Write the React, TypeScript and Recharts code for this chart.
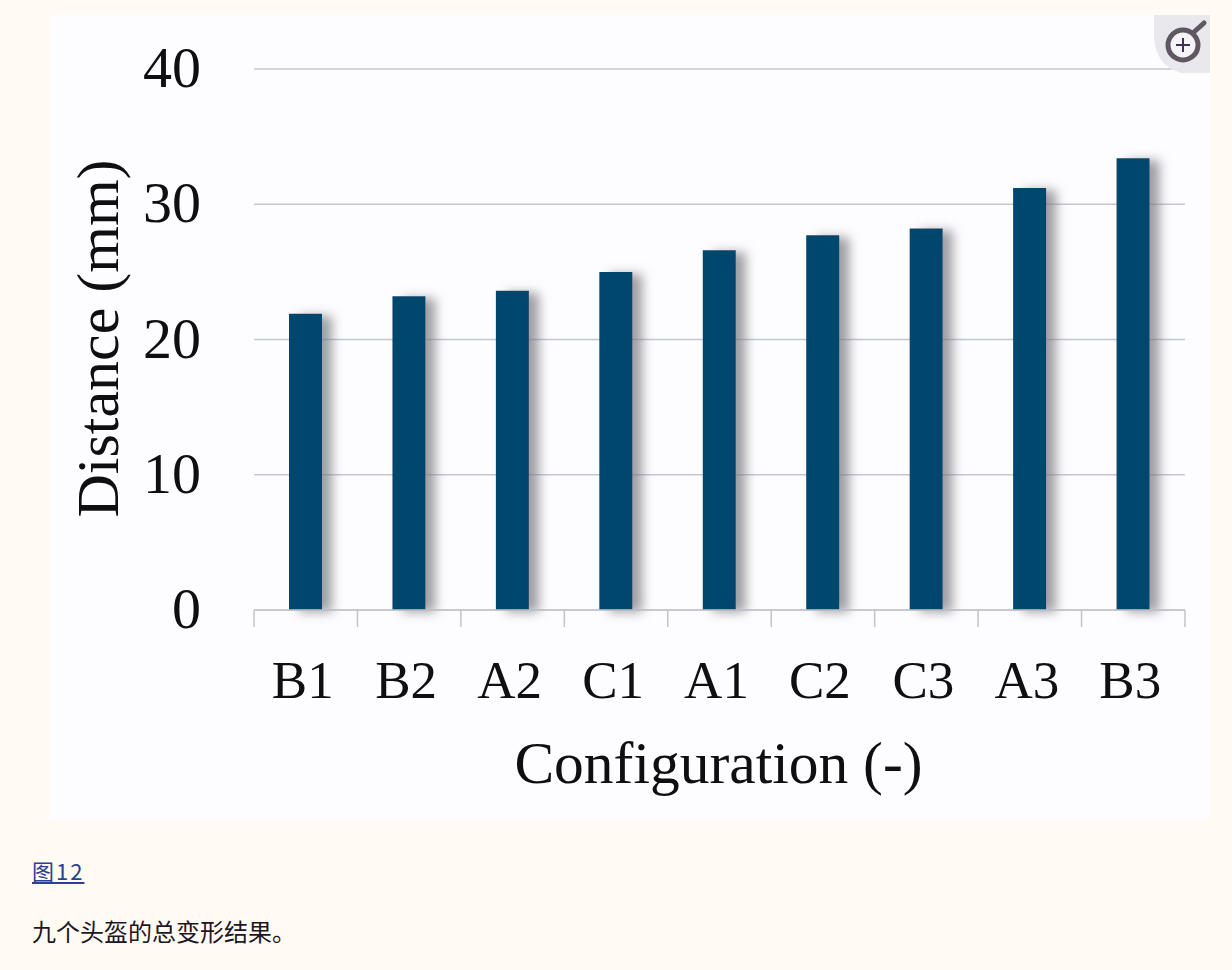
import { Bar, BarChart, CartesianGrid, Label, XAxis, YAxis } from 'recharts'

const configurations = ['B1', 'B2', 'A2', 'C1', 'A1', 'C2', 'C3', 'A3', 'B3']
const distances = [21.9, 23.2, 23.6, 25.0, 26.6, 27.7, 28.2, 31.2, 33.4]
const yTicks = [0, 10, 20, 30, 40]

const chartData = configurations.map((name, i) => ({ name, distance: distances[i] }))

const serif = '"Liberation Serif", serif'
const cjk = '"Noto Sans CJK SC", sans-serif'
const bandWidth = 931 / configurations.length
const textColor = '#0f0f12'

function CategoryTick({ x, y, index, payload }: any) {
  const last = index === configurations.length - 1
  return (
    <g>
      <line x1={x - bandWidth / 2} x2={x - bandWidth / 2} y1={y - 8} y2={y + 9} stroke="#c2c4c8" strokeWidth={1.5} />
      {last && <line x1={x + bandWidth / 2} x2={x + bandWidth / 2} y1={y - 8} y2={y + 9} stroke="#c2c4c8" strokeWidth={1.5} />}
      <text x={x - 3} y={y + 80} textAnchor="middle" fontFamily={serif} fontSize={53} fill={textColor}>
        {payload.value}
      </text>
    </g>
  )
}

function YTick({ x, y, payload }: any) {
  return (
    <text x={x} y={y + 18} textAnchor="end" fontFamily={serif} fontSize={58} fill={textColor}>
      {payload.value}
    </text>
  )
}

function ZoomBadge() {
  return (
    <svg width={56} height={58} style={{ position: 'absolute', left: 1154, top: 15 }}>
      <path d="M0 0 H56 V58 H28 Q2 52 0 22 Z" fill="#e9e9ed" />
      <line x1={40} y1={17} x2={50} y2={8} stroke="#5f5862" strokeWidth={5} strokeLinecap="round" />
      <circle cx={29} cy={30} r={15} fill="#f4f4f6" stroke="#5f5862" strokeWidth={5} />
      <line x1={22} x2={36} y1={30} y2={30} stroke="#3f2f55" strokeWidth={2} />
      <line x1={29} x2={29} y1={23} y2={37} stroke="#3f2f55" strokeWidth={2} />
    </svg>
  )
}

export default function App() {
  return (
    <div style={{ position: 'absolute', left: 0, top: 0, width: 1232, height: 970, background: '#fffbf3', overflow: 'hidden' }}>
      <div style={{ position: 'absolute', left: 50, top: 15, width: 1160, height: 805, background: '#fdfdff', boxShadow: '0 0 6px #fdfbf8' }}>
        <BarChart
          width={1160}
          height={805}
          data={chartData}
          barSize={33}
          margin={{ top: 54, right: 25, left: 0, bottom: 0 }}
        >
          <defs>
            <filter id="barShadow" x="-20%" y="-5%" width="220%" height="110%">
              <feDropShadow dx={10} dy={2} stdDeviation={5.5} floodColor="#77757c" floodOpacity={0.7} />
            </filter>
          </defs>
          <CartesianGrid vertical={false} stroke="#c3c7d1" strokeWidth={1.5} />
          <XAxis
            dataKey="name"
            height={210}
            interval={0}
            axisLine={{ stroke: '#c2c4c8', strokeWidth: 1.5 }}
            tickLine={false}
            tick={<CategoryTick />}
          >
            <Label
              value="Configuration (-)"
              position="insideBottom"
              offset={37}
              dx={-1}
              style={{ fontFamily: serif, fontSize: 59.5, fill: textColor }}
            />
          </XAxis>
          <YAxis
            width={204}
            domain={[0, 40]}
            ticks={yTicks}
            axisLine={false}
            tickLine={false}
            tickSize={0}
            tickMargin={53}
            tick={<YTick />}
          >
            <Label
              value="Distance (mm)"
              angle={-90}
              position="insideLeft"
              offset={47}
              dy={-1}
              style={{ fontFamily: serif, fontSize: 60, fill: textColor, textAnchor: 'middle' }}
            />
          </YAxis>
          <Bar dataKey="distance" fill="#03466e" filter="url(#barShadow)" isAnimationActive={false} />
        </BarChart>
      </div>
      <ZoomBadge />
      <a
        href="#fig12"
        style={{ position: 'absolute', left: 32, top: 855, fontFamily: cjk, fontSize: 22, lineHeight: '30px', color: '#2c3f93', textDecoration: 'underline', letterSpacing: 2 }}
      >
        图12
      </a>
      <div style={{ position: 'absolute', left: 32, top: 915, fontFamily: cjk, fontSize: 24, lineHeight: '32px', color: '#1c1626' }}>
        九个头盔的总变形结果。
      </div>
    </div>
  )
}
